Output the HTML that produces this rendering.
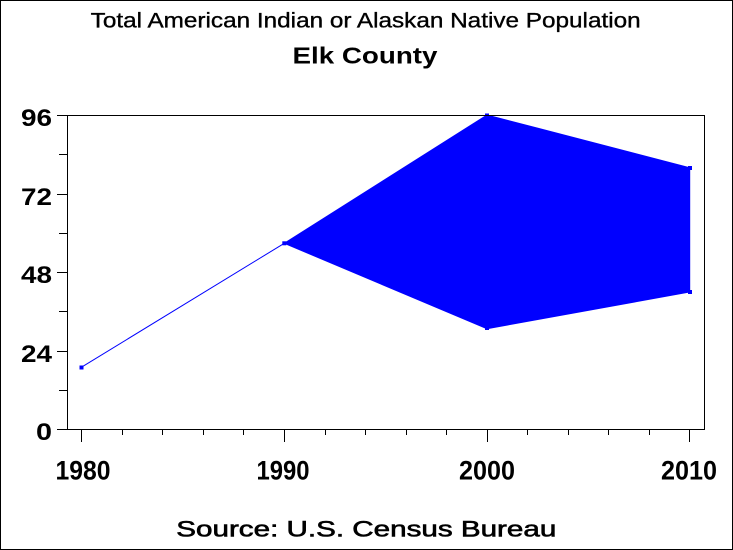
<!DOCTYPE html>
<html>
<head>
<meta charset="utf-8">
<style>
html,body{margin:0;padding:0;background:#fff;}
svg{display:block;}
text{font-family:"Liberation Sans",Arial,sans-serif;fill:#000;}
</style>
</head>
<body>
<svg width="733" height="550" viewBox="0 0 733 550" xmlns="http://www.w3.org/2000/svg">
<rect x="0.5" y="0.5" width="732" height="549" fill="#fff" stroke="#000" stroke-width="1"/>

<text x="365.7" y="27.5" font-size="21" text-anchor="middle" stroke="#000" stroke-width="0.35" textLength="550" lengthAdjust="spacingAndGlyphs">Total American Indian or Alaskan Native Population</text>
<text x="365" y="63.5" font-size="23" font-weight="bold" text-anchor="middle" textLength="145" lengthAdjust="spacingAndGlyphs">Elk County</text>

<!-- data polygon -->
<polygon points="284.3,243.3 487,115 689.7,167.7 689.7,292 487,328.7" fill="#0000ff" stroke="#0000ff" stroke-width="1"/>
<line x1="81.3" y1="367.3" x2="284.3" y2="243.3" stroke="#0000ff" stroke-width="1"/>
<g fill="#0000ff">
<rect x="79.5" y="365.5" width="4" height="4"/>
<rect x="282.3" y="241.3" width="4" height="4"/>
<rect x="485" y="113.5" width="4" height="3"/>
<rect x="485" y="327" width="4" height="3"/>
<rect x="688" y="166" width="4" height="4"/>
<rect x="688" y="290" width="4" height="4"/>
</g>

<!-- frame -->
<g stroke="#000" stroke-width="1" shape-rendering="crispEdges" fill="none">
<rect x="67.5" y="115.5" width="637" height="314"/>
<line x1="57" y1="115.5" x2="67" y2="115.5"/>
<line x1="57" y1="194.5" x2="67" y2="194.5"/>
<line x1="57" y1="272.5" x2="67" y2="272.5"/>
<line x1="57" y1="351.5" x2="67" y2="351.5"/>
<line x1="57" y1="429.5" x2="67" y2="429.5"/>
<line x1="59" y1="154.5" x2="67" y2="154.5"/>
<line x1="59" y1="233.5" x2="67" y2="233.5"/>
<line x1="59" y1="311.5" x2="67" y2="311.5"/>
<line x1="59" y1="390.5" x2="67" y2="390.5"/>
<line x1="81.5" y1="430" x2="81.5" y2="442"/>
<line x1="284.5" y1="430" x2="284.5" y2="442"/>
<line x1="487.5" y1="430" x2="487.5" y2="442"/>
<line x1="689.5" y1="430" x2="689.5" y2="442"/>
<line x1="122.5" y1="430" x2="122.5" y2="435"/>
<line x1="162.5" y1="430" x2="162.5" y2="435"/>
<line x1="203.5" y1="430" x2="203.5" y2="435"/>
<line x1="243.5" y1="430" x2="243.5" y2="435"/>
<line x1="325.5" y1="430" x2="325.5" y2="435"/>
<line x1="365.5" y1="430" x2="365.5" y2="435"/>
<line x1="406.5" y1="430" x2="406.5" y2="435"/>
<line x1="446.5" y1="430" x2="446.5" y2="435"/>
<line x1="527.5" y1="430" x2="527.5" y2="435"/>
<line x1="568.5" y1="430" x2="568.5" y2="435"/>
<line x1="608.5" y1="430" x2="608.5" y2="435"/>
<line x1="649.5" y1="430" x2="649.5" y2="435"/>
</g>

<!-- y labels -->
<g font-size="24" font-weight="bold" text-anchor="end">
<text x="52" y="126" textLength="31" lengthAdjust="spacingAndGlyphs">96</text>
<text x="52" y="205" textLength="31" lengthAdjust="spacingAndGlyphs">72</text>
<text x="52" y="283" textLength="31" lengthAdjust="spacingAndGlyphs">48</text>
<text x="52" y="362" textLength="31" lengthAdjust="spacingAndGlyphs">24</text>
<text x="52" y="440" textLength="16" lengthAdjust="spacingAndGlyphs">0</text>
</g>

<!-- x labels -->
<g font-size="27" font-weight="bold" text-anchor="middle">
<text x="83" y="479.5" textLength="55" lengthAdjust="spacingAndGlyphs">1980</text>
<text x="283" y="479.5" textLength="53" lengthAdjust="spacingAndGlyphs">1990</text>
<text x="487" y="479.5" textLength="56" lengthAdjust="spacingAndGlyphs">2000</text>
<text x="689" y="479.5" textLength="56" lengthAdjust="spacingAndGlyphs">2010</text>
</g>

<text x="366.3" y="536.5" font-size="22" text-anchor="middle" stroke="#000" stroke-width="0.6" textLength="380" lengthAdjust="spacingAndGlyphs">Source: U.S. Census Bureau</text>
</svg>
</body>
</html>
